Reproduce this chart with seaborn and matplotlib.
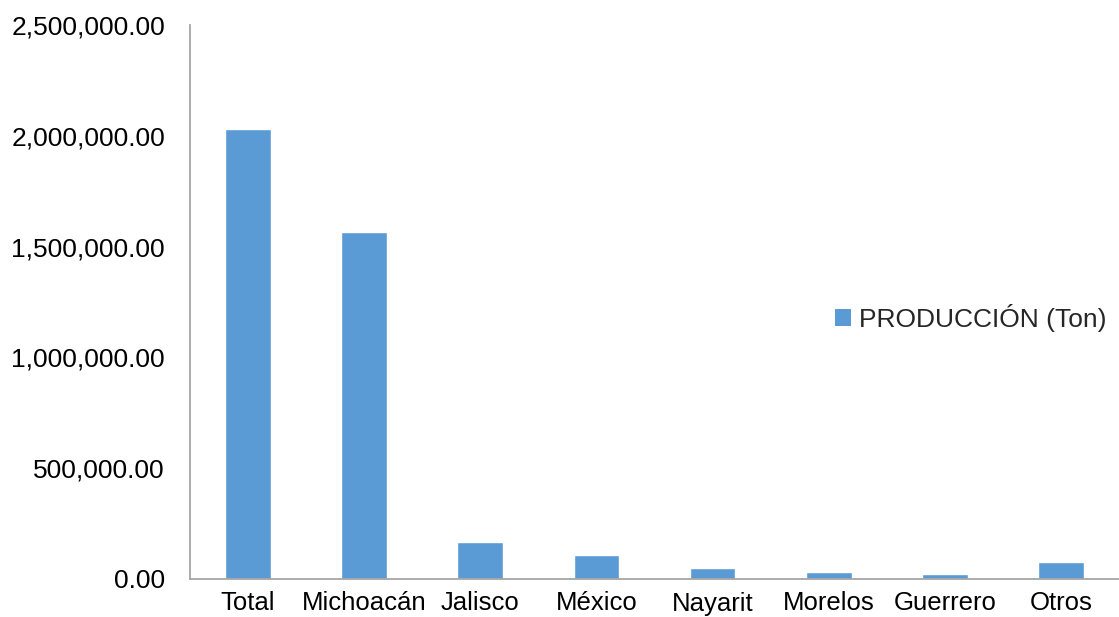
import matplotlib
matplotlib.use("Agg")
import matplotlib.pyplot as plt
import seaborn as sns
import pandas as pd
from matplotlib.ticker import FuncFormatter, MultipleLocator
from matplotlib.patches import Patch

categories = ["Total", "Michoacán", "Jalisco", "México", "Nayarit", "Morelos", "Guerrero", "Otros"]
produccion = [2029000, 1566000, 167000, 108000, 48000, 32000, 22000, 77000]
series_name = "PRODUCCIÓN (Ton)"

sns.set_theme(style="white")
plt.rcParams["font.family"] = ["Liberation Sans", "DejaVu Sans"]

df = pd.DataFrame({"Estado": categories, "Produccion": produccion})

fig = plt.figure(figsize=(11.19, 6.17), dpi=100)
ax = fig.add_axes([190 / 1119, 1 - 579 / 617, 929 / 1119, 554 / 617])

bar_color = "#5B9BD5"
sns.barplot(data=df, x="Estado", y="Produccion", color=bar_color, width=0.395,
            saturation=1, ax=ax)

ax.set_ylim(0, 2500000)
ax.set_xlim(-0.5, len(categories) - 0.5)
ax.yaxis.set_major_locator(MultipleLocator(500000))
ax.yaxis.set_major_formatter(FuncFormatter(lambda v, p: f"{v:,.2f}"))
ax.set_xlabel("")
ax.set_ylabel("")

for s in ["top", "right"]:
    ax.spines[s].set_visible(False)
for s in ["left", "bottom"]:
    ax.spines[s].set_color("#a6a6a6")
    ax.spines[s].set_linewidth(1.3)

ax.tick_params(axis="y", length=0, pad=18, labelsize=19, labelcolor="black")
ax.tick_params(axis="x", length=0, pad=9, labelsize=18.5, labelcolor="black")

handle = Patch(facecolor=bar_color, edgecolor="none")
ax.legend([handle], [series_name], loc="center left",
          bbox_to_anchor=((835 - 190) / 929, (579 - 318) / 554),
          frameon=False, fontsize=19, handlelength=0.6, handleheight=0.6,
          handletextpad=0.3, borderpad=0, borderaxespad=0)

fig.savefig("out.png", dpi=100)
